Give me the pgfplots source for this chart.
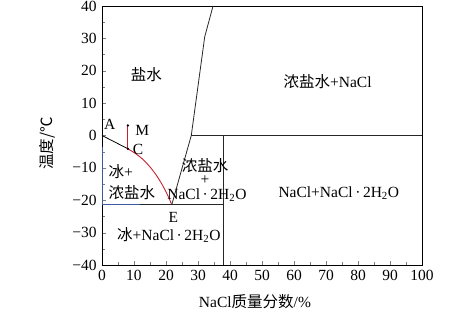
\documentclass[border=0pt]{standalone}
\usepackage{pgfplots}
\pgfplotsset{compat=1.18}
\usepackage{fontspec}
\setmainfont{Liberation Serif}
\newfontfamily\cjk{Noto Sans CJK SC}
\definecolor{redc}{RGB}{200,30,45}
\definecolor{bluec}{RGB}{60,90,160}
\begin{document}
\fontsize{15.5bp}{18bp}\selectfont
\begin{tikzpicture}
\begin{axis}[
  width=320bp, height=259bp, scale only axis,
  xmin=0, xmax=100, ymin=-40, ymax=40,
  xtick={0,10,...,100}, ytick={-40,-30,...,40},
  yticklabels={−40,−30,−20,−10,0,10,20,30,40},
  minor tick num=1,
  tick pos=left, tick align=inside,
  major tick length=4bp, minor tick length=3bp,
  /pgf/number format/assume math mode=true,
  tick label style={font=\fontsize{15.5bp}{18bp}\selectfont},
  xlabel={NaCl{\cjk 质量分数}/\%},
  ylabel={{\cjk 温度/℃}},
  xlabel style={at={(axis description cs:0.478,-0.142)}, anchor=center},
  ylabel style={at={(axis description cs:-0.172,0.47)}, anchor=center},
  axis line style={line width=0.6pt},
  clip=false,
]
% ice line A-C
\addplot[black, line width=0.8pt] coordinates {(0,0) (8.1,-4.1)};
% red curve C-E
\addplot[redc, line width=0.9pt, smooth] coordinates {(8.1,-4.1) (10.5,-5.6) (12.8,-7.4) (15,-9.7) (17,-12.3) (18.7,-15) (20.1,-17.6) (21,-19.5) (21.8,-21.4)};
% M-C
\addplot[redc, line width=0.9pt] coordinates {(8.1,3.1) (8.1,-4.1)};
\addplot[only marks, mark=*, mark size=1pt, black] coordinates {(8.1,3.1) (8.1,-4.1)};
% NaCl.2H2O / NaCl boundary
\addplot[black!85, line width=0.8pt] coordinates {(21.8,-21.4) (27.9,0) (32.1,30.5) (34.7,40)};
\addplot[black!85, line width=0.8pt] coordinates {(27.9,0) (100,0)};
\addplot[black!85, line width=0.8pt] coordinates {(38,0) (38,-40)};
% eutectic line
\addplot[black!85, line width=0.8pt] coordinates {(12,-21.4) (38,-21.4)};
\addplot[bluec, line width=0.9pt] coordinates {(0,-21.4) (12,-21.4)};
\addplot[bluec, line width=0.9pt] coordinates {(0,-3.6) (0,-21.4)};
% labels
\node at (axis cs:13.9,18.7) {\cjk 盐水};
\node at (axis cs:70.5,16.6) {{\cjk 浓盐水}+NaCl};
\node at (axis cs:74,-17.7) {NaCl+NaCl\,·\,2H\textsubscript{2}O};
\node at (axis cs:20.9,-30.8) {{\cjk 冰}+NaCl\,·\,2H\textsubscript{2}O};
\node at (axis cs:2.4,3.3) {A};
\node at (axis cs:12.6,1.6) {M};
\node at (axis cs:11.3,-4.4) {C};
\node[inner sep=1pt] at (axis cs:22.3,-25.3) {E};
\node[anchor=west, inner sep=0pt] at (axis cs:2.0,-11) {{\cjk 冰}+};
\node[anchor=west, inner sep=0pt] at (axis cs:2.0,-17.7) {\cjk 浓盐水};
\node at (axis cs:32.2,-9.2) {\cjk 浓盐水};
\node at (axis cs:32.2,-13.8) {+};
\node at (axis cs:32.8,-18.5) {NaCl\,·\,2H\textsubscript{2}O};
\end{axis}
\pgfresetboundingbox
\path[use as bounding box] ([shift={(-102bp,-51bp)}]current axis.south west) rectangle ([shift={(52bp,6bp)}]current axis.north east);
\end{tikzpicture}
\end{document}
